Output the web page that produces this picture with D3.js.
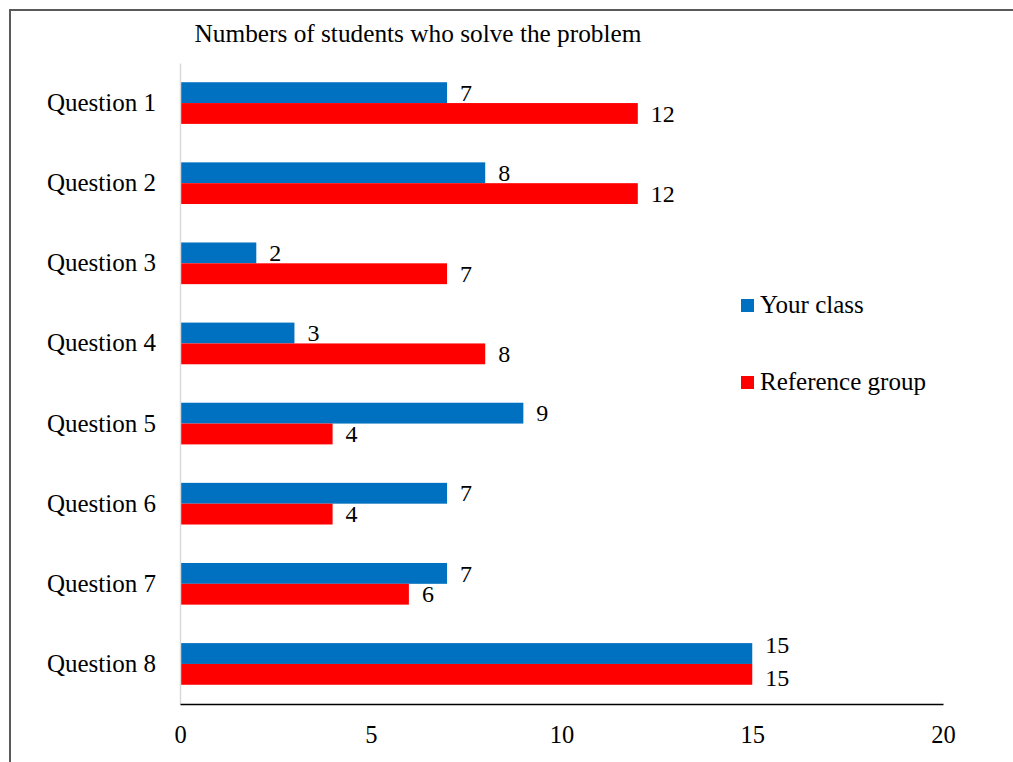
<!DOCTYPE html>
<html>
<head>
<meta charset="utf-8">
<script src="https://cdn.jsdelivr.net/npm/d3@7/dist/d3.min.js"></script>
<style>
  html, body { margin: 0; padding: 0; background: #fff; }
  svg text { font-family: "Liberation Serif", "DejaVu Serif", "Times New Roman", Times, serif !important; }
</style>
</head>
<body>
<svg id="chart" width="1013" height="762"></svg>
<script>
// Chart data
const questions = ["Question 1", "Question 2", "Question 3", "Question 4",
                   "Question 5", "Question 6", "Question 7", "Question 8"];
const yourClass = [7, 8, 2, 3, 9, 7, 7, 15];
const referenceGroup = [12, 12, 7, 8, 4, 4, 6, 15];
const seriesNames = ["Your class", "Reference group"];
const seriesColors = ["#0070C0", "#FF0000"];
const xTicks = [0, 5, 10, 15, 20];
const title = "Numbers of students who solve the problem";

const svg = d3.select("#chart");

// Outer frame
svg.append("rect")
  .attr("x", 10).attr("y", 10)
  .attr("width", 1020).attr("height", 780)
  .attr("fill", "none")
  .attr("stroke", "#5a5a5a")
  .attr("stroke-width", 2);

const plot = { left: 180, right: 943, top: 63, bottom: 704 };

const x = d3.scaleLinear().domain([0, 20]).range([plot.left, plot.right]);
const y = d3.scaleBand().domain(questions)
  .range([plot.top, plot.bottom])
  .paddingInner(0.48).paddingOuter(0.24);
const ySub = d3.scaleBand().domain(seriesNames).range([0, y.bandwidth()]);

// Title
svg.append("text")
  .attr("x", 418).attr("y", 42)
  .attr("text-anchor", "middle")
  .attr("font-size", 25.3)
  .attr("fill", "#000")
  .text(title);

// Bars
const rows = questions.map((q, i) => ({ q, vals: [yourClass[i], referenceGroup[i]] }));
const groups = svg.append("g").selectAll("g").data(rows).join("g")
  .attr("transform", d => `translate(0,${y(d.q)})`);

groups.selectAll("rect")
  .data(d => d.vals.map((v, k) => ({ v, k })))
  .join("rect")
  .attr("x", x(0))
  .attr("y", d => ySub(seriesNames[d.k]))
  .attr("width", d => x(d.v) - x(0))
  .attr("height", ySub.bandwidth())
  .attr("fill", d => seriesColors[d.k]);

// Value labels; when both bars of a row end at the same value the two
// labels would collide, so they are pushed apart vertically.
groups.selectAll("text")
  .data(d => d.vals.map((v, k) => ({ v, k, tie: d.vals[0] === d.vals[1] })))
  .join("text")
  .attr("x", d => x(d.v) + 13)
  .attr("y", d => ySub(seriesNames[d.k]) + ySub.bandwidth() / 2
                  + (d.tie ? (d.k === 0 ? -9 : 3) : 0))
  .attr("dy", "0.34em")
  .attr("font-size", 24)
  .attr("fill", "#000")
  .text(d => d.v);

// Category axis (left)
const yAxis = svg.append("g")
  .attr("transform", `translate(${plot.left},0)`)
  .call(d3.axisLeft(y).tickSize(0).tickPadding(24));
yAxis.select(".domain").attr("stroke", "#d9d9d9").attr("stroke-width", 1.5);
yAxis.selectAll("text").attr("font-size", 25).attr("fill", "#000");

// Value axis (bottom)
const xAxis = svg.append("g")
  .attr("transform", `translate(0,${plot.bottom})`)
  .call(d3.axisBottom(x).tickValues(xTicks).tickSize(0).tickPadding(22));
xAxis.select(".domain").attr("stroke", "#000").attr("stroke-width", 1.5);
xAxis.selectAll("text").attr("font-size", 24.5).attr("fill", "#000");

// Legend
const legend = svg.append("g").selectAll("g").data(seriesNames).join("g")
  .attr("transform", (d, i) => `translate(741,${299 + i * 77})`);
legend.append("rect")
  .attr("width", 13).attr("height", 13)
  .attr("fill", (d, i) => seriesColors[i]);
legend.append("text")
  .attr("x", 19).attr("y", 14)
  .attr("font-size", 25)
  .attr("fill", "#000")
  .text(d => d);
</script>
</body>
</html>
